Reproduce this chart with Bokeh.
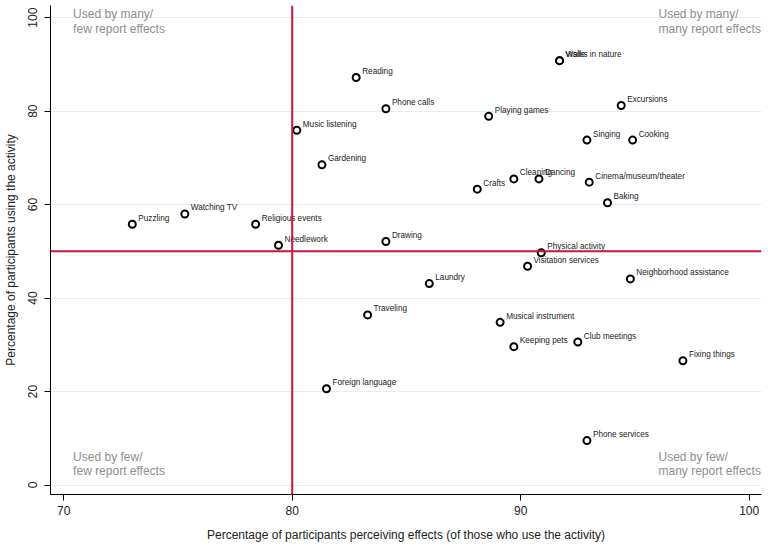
from bokeh.plotting import figure
from bokeh.models import Span, Label, FixedTicker, ColumnDataSource, Range1d
from bokeh.core.properties import value
from bokeh.embed import file_html
from bokeh.resources import INLINE

activities = ["Puzzling", "Watching TV", "Religious events", "Needlework", "Music listening",
              "Gardening", "Reading", "Phone calls", "Drawing", "Traveling", "Foreign language",
              "Laundry", "Crafts", "Cleaning", "Dancing", "Playing games", "Walks in nature",
              "Visits", "Excursions", "Singing", "Cooking", "Cinema/museum/theater", "Baking",
              "Physical activity", "Visitation services", "Neighborhood assistance",
              "Musical instrument", "Keeping pets", "Club meetings", "Fixing things",
              "Phone services"]
effects = [73.0, 75.3, 78.4, 79.4, 80.2,
           81.3, 82.8, 84.1, 84.1, 83.3, 81.5,
           86.0, 88.1, 89.7, 90.8, 88.6, 91.7,
           91.7, 94.4, 92.9, 94.9, 93.0, 93.8,
           90.9, 90.3, 94.8,
           89.1, 89.7, 92.5, 97.1,
           92.9]
usage = [55.8, 58.0, 55.8, 51.3, 75.9,
         68.5, 87.2, 80.5, 52.1, 36.4, 20.6,
         43.1, 63.3, 65.5, 65.5, 78.9, 90.8,
         90.8, 81.2, 73.8, 73.8, 64.8, 60.4,
         49.7, 46.8, 44.1,
         34.8, 29.6, 30.6, 26.6,
         9.5]

x_ticks = [70, 80, 90, 100]
y_ticks = [0, 20, 40, 60, 80, 100]
x_threshold = 80
y_threshold = 50

src = ColumnDataSource(dict(x=effects, y=usage, name=activities))

FONT = "Liberation Sans"

p = figure(width=768, height=546, output_backend="svg", toolbar_location=None,
           x_range=Range1d(69.42, 100.54), y_range=Range1d(-2.03, 102.6),
           min_border_left=50, min_border_right=7, min_border_top=5, min_border_bottom=52)
p.background_fill_color = "white"
p.border_fill_color = "white"
p.outline_line_color = None

p.xgrid.grid_line_color = None
p.ygrid.grid_line_color = "#e4edf1"
p.ygrid.grid_line_width = 1.2
p.xaxis.ticker = FixedTicker(ticks=x_ticks)
p.yaxis.ticker = FixedTicker(ticks=y_ticks)

for ax in (p.xaxis, p.yaxis):
    ax.axis_line_color = "black"
    ax.major_tick_line_color = "black"
    ax.minor_tick_line_color = None
    ax.major_tick_out = 6
    ax.major_tick_in = 0
    ax.major_label_text_font = FONT
    ax.major_label_text_font_size = "12px"
    ax.major_label_text_color = "#222222"
    ax.axis_label_text_font = FONT
    ax.axis_label_text_font_size = "12px"
    ax.axis_label_text_font_style = "normal"
    ax.axis_label_text_color = "#222222"

p.xaxis.axis_label = "Percentage of participants perceiving effects (of those who use the activity)"
p.yaxis.axis_label = "Percentage of participants using the activity"
p.xaxis.major_label_standoff = 5
p.xaxis.axis_label_standoff = 10
p.yaxis.major_label_standoff = 7
p.yaxis.axis_label_standoff = 8
p.yaxis.major_label_orientation = "vertical"

red = "#c8173c"
p.add_layout(Span(location=x_threshold, dimension="height", line_color=red, line_width=2))
p.add_layout(Span(location=y_threshold, dimension="width", line_color=red, line_width=2))

p.scatter("x", "y", source=src, size=7, marker="circle", fill_color="white",
          line_color="black", line_width=2)
p.text("x", "y", text="name", source=src, x_offset=6, y_offset=-6,
       text_font=value(FONT), text_font_size="8.2px", text_color="#222222",
       text_align="left", text_baseline="middle")

gray = "#8e8e8e"
corner = [
    (70.41, 100.8, "Used by many/"), (70.41, 97.6, "few report effects"),
    (96.03, 100.8, "Used by many/"), (96.03, 97.6, "many report effects"),
    (70.41, 6.1, "Used by few/"), (70.41, 2.9, "few report effects"),
    (96.03, 6.1, "Used by few/"), (96.03, 2.9, "many report effects"),
]
for cx, cy, t in corner:
    p.add_layout(Label(x=cx, y=cy, text=t, text_font=FONT, text_font_size="12px",
                       text_color=gray, text_align="left", text_baseline="middle"))

open("out.html", "w").write(file_html(p, INLINE))
